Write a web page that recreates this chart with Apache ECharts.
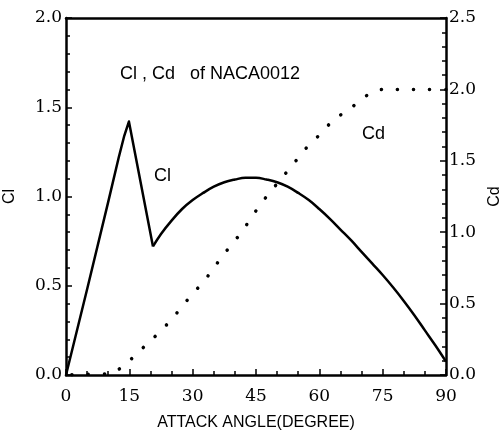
<!DOCTYPE html>
<html>
<head>
<meta charset="utf-8">
<script src="https://cdn.jsdelivr.net/npm/echarts@6/dist/echarts.min.js"></script>
<style>
  html, body { margin: 0; padding: 0; background: #fff; }
  #chart { width: 504px; height: 441px; }
</style>
</head>
<body>
<div id="chart"></div>
<script>
// Lift coefficient of NACA0012 versus attack angle (degrees): pre-stall branch
const clAngleAttached = [0, 5, 10, 12.5, 13.8, 14.9, 20.6];
const clValueAttached = [0, 0.48, 0.97, 1.22, 1.34, 1.42, 0.72];

// Lift coefficient after stall (degrees)
const clAngleStalled = [20.6, 22.5, 25, 27.5, 30, 32.5, 35, 37.5, 40, 42.5, 45, 47.5, 50, 52.5, 55, 57.5, 60, 62.5, 65, 67.5, 70, 72.5, 75, 77.5, 80, 82.5, 85, 87.5, 90];
const clValueStalled = [0.72, 0.79, 0.865, 0.93, 0.98, 1.02, 1.055, 1.08, 1.095, 1.105, 1.105, 1.095, 1.08, 1.055, 1.02, 0.98, 0.93, 0.875, 0.815, 0.755, 0.69, 0.625, 0.56, 0.49, 0.415, 0.335, 0.25, 0.165, 0.075];

// Drag coefficient of NACA0012 versus attack angle (degrees)
const cdAngle = [0, 5, 10, 12.5, 15, 17.5, 20, 22.5, 25, 27.5, 30, 32.5, 35, 37.5, 40, 42.5, 45, 47.5, 50, 52.5, 55, 57.5, 60, 62.5, 65, 67.5, 70, 72.5, 75, 77.5, 80, 85, 90];
const cdValue = [0, 0.005, 0.01, 0.04, 0.10, 0.17, 0.24, 0.31, 0.39, 0.48, 0.57, 0.65, 0.75, 0.85, 0.94, 1.04, 1.15, 1.25, 1.34, 1.43, 1.52, 1.61, 1.68, 1.76, 1.82, 1.87, 1.93, 1.98, 2.0, 2.0, 2.0, 2.0, 2.0];

// Axis tick labels
const xTicks = ['0', '15', '30', '45', '60', '75', '90'];
const clTicks = ['0.0', '0.5', '1.0', '1.5', '2.0'];
const cdTicks = ['0.0', '0.5', '1.0', '1.5', '2.0', '2.5'];

const sans = "'Liberation Sans', Arial, sans-serif";
const serif = "'DejaVu Serif', 'Liberation Serif', serif";

const pairs = (xs, ys) => xs.map((x, i) => [x, ys[i]]);

const chart = echarts.init(document.getElementById('chart'), null, { renderer: 'canvas' });

const axisLine = { show: true, onZero: false, lineStyle: { color: '#000', width: 2.5 } };
const tickIn = { show: true, inside: true, length: 6, lineStyle: { color: '#000', width: 1.5 } };
const minorIn = (n) => ({ show: true, splitNumber: n, length: 4, lineStyle: { color: '#000', width: 1.5 } });
const clLine = { color: '#000', width: 2.5, join: 'round' };

chart.setOption({
  backgroundColor: '#fff',
  animation: false,
  grid: { left: 66, right: 58, top: 18, bottom: 66, containLabel: false, outerBoundsMode: 'none' },
  xAxis: [
    {
      type: 'value', min: 0, max: 90, interval: 15, position: 'bottom',
      axisLine: axisLine,
      axisTick: tickIn,
      minorTick: minorIn(3),
      splitLine: { show: false },
      axisLabel: {
        color: '#000', fontFamily: serif, fontSize: 17, margin: 13,
        formatter: (v) => xTicks[Math.round(v / 15)]
      },
      name: 'ATTACK ANGLE(DEGREE)', nameLocation: 'middle', nameGap: 40,
      nameTextStyle: { color: '#000', fontFamily: sans, fontSize: 16 }
    },
    {
      type: 'value', min: 0, max: 90, position: 'top',
      axisLine: axisLine, axisTick: { show: false }, axisLabel: { show: false },
      splitLine: { show: false }
    }
  ],
  yAxis: [
    {
      type: 'value', min: 0, max: 2, interval: 0.5, position: 'left',
      axisLine: axisLine,
      axisTick: tickIn,
      minorTick: minorIn(5),
      splitLine: { show: false },
      axisLabel: {
        color: '#000', fontFamily: serif, fontSize: 17, margin: 4,
        formatter: (v) => clTicks[Math.round(v / 0.5)]
      },
      name: 'Cl', nameLocation: 'middle', nameGap: 48, nameRotate: 90,
      nameTextStyle: { color: '#000', fontFamily: sans, fontSize: 16 }
    },
    {
      type: 'value', min: 0, max: 2.5, interval: 0.5, position: 'right',
      axisLine: axisLine,
      axisTick: tickIn,
      minorTick: minorIn(5),
      splitLine: { show: false },
      axisLabel: {
        color: '#000', fontFamily: serif, fontSize: 17, margin: 3,
        formatter: (v) => cdTicks[Math.round(v / 0.5)]
      },
      name: 'Cd', nameLocation: 'middle', nameGap: 40, nameRotate: 90,
      nameTextStyle: { color: '#000', fontFamily: sans, fontSize: 16 }
    }
  ],
  series: [
    {
      name: 'Cl', type: 'line', xAxisIndex: 0, yAxisIndex: 0,
      data: pairs(clAngleAttached, clValueAttached),
      showSymbol: false, symbol: 'none',
      lineStyle: clLine
    },
    {
      name: 'Cl', type: 'line', xAxisIndex: 0, yAxisIndex: 0,
      data: pairs(clAngleStalled, clValueStalled),
      showSymbol: false, symbol: 'none', smooth: 0.4,
      lineStyle: clLine
    },
    {
      name: 'Cd', type: 'line', xAxisIndex: 0, yAxisIndex: 1,
      data: pairs(cdAngle, cdValue),
      showSymbol: false, symbol: 'none', smooth: 0.3,
      lineStyle: { color: '#000', width: 3.5, type: [0.1, 16], dashOffset: 10, cap: 'round' }
    }
  ],
  graphic: [
    { type: 'text', left: 120, top: 65, style: { text: 'Cl , Cd   of NACA0012', fill: '#000', font: "18px " + sans } },
    { type: 'text', left: 154, top: 167, style: { text: 'Cl', fill: '#000', font: "18px " + sans } },
    { type: 'text', left: 362, top: 125, style: { text: 'Cd', fill: '#000', font: "18px " + sans } }
  ]
});
</script>
</body>
</html>
